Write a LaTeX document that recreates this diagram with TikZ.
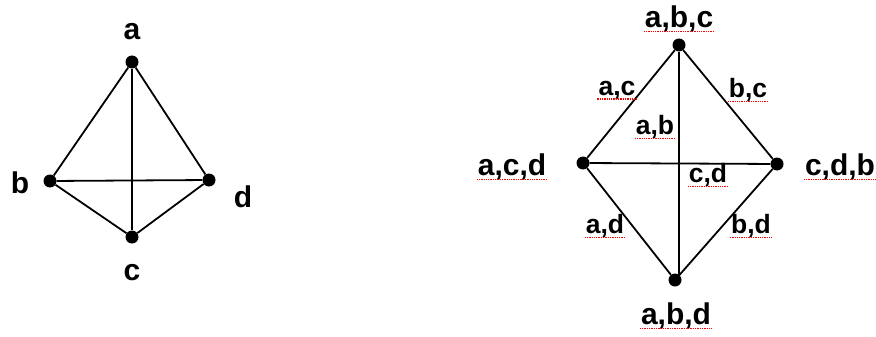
\documentclass[tikz,border=0pt]{standalone}
\usepackage{fontspec}
\setmainfont{Liberation Sans}
\begin{document}
\begin{tikzpicture}[x=1pt,y=-1pt,
  dot/.style={circle,fill=black,inner sep=0pt,minimum size=13pt},
  edge/.style={line width=1.8pt},
  lbl/.style={font=\bfseries\fontsize{30}{34}\selectfont,inner sep=1pt},
  squig/.style={append after command={
      ([yshift=-4pt]\tikzlastnode.base west) edge[red,densely dotted,line width=1.3pt] ([yshift=-4pt]\tikzlastnode.base east)}},
  slbl/.style={lbl,squig},
  elbl/.style={lbl,font=\bfseries\fontsize{26.5}{30}\selectfont,squig}]
\useasboundingbox (0,0) rectangle (876,337);
% left graph
\node[dot] (a) at (132,62) {};
\node[dot] (b) at (50,181) {};
\node[dot] (d) at (209,180) {};
\node[dot] (c) at (132,237) {};
\draw[edge] (a) -- (b);
\draw[edge] (a) -- (d);
\draw[edge] (a) -- (c);
\draw[edge] (b) -- (d);
\draw[edge] (b) -- (c);
\draw[edge] (c) -- (d);
\node[lbl] (la) at (132,32) {a};
\node[lbl] (lb) at (20,183) {b};
\node[lbl] (ld) at (243,197) {d};
\node[lbl] (lc) at (132,273) {c};
% right graph
\node[dot] (t) at (679,45) {};
\node[dot] (l) at (583,163) {};
\node[dot] (r) at (777,164) {};
\node[dot] (bo) at (675,280) {};
\draw[edge] (t) -- (l);
\draw[edge] (t) -- (r);
\draw[edge] (t) -- (t |- bo);
\draw[edge] (l) -- (r);
\draw[edge] (l) -- (bo);
\draw[edge] (r) -- (bo);
\node[slbl] (lt) at (679,19) {a,b,c};
\node[slbl] (ll) at (512,167) {a,c,d};
\node[slbl] (lr) at (840,167) {c,d,b};
\node[slbl] (lbo) at (676,316) {a,b,d};
\node[elbl] (eac) at (617,90) {a,c};
\node[elbl] (ebc) at (748,90) {b,c};
\node[elbl] (eab) at (655,127) {a,b};
\node[elbl] (ecd) at (708,175) {c,d};
\node[elbl] (ead) at (605,226) {a,d};
\node[elbl] (ebd) at (751,226) {b,d};
\end{tikzpicture}
\end{document}
